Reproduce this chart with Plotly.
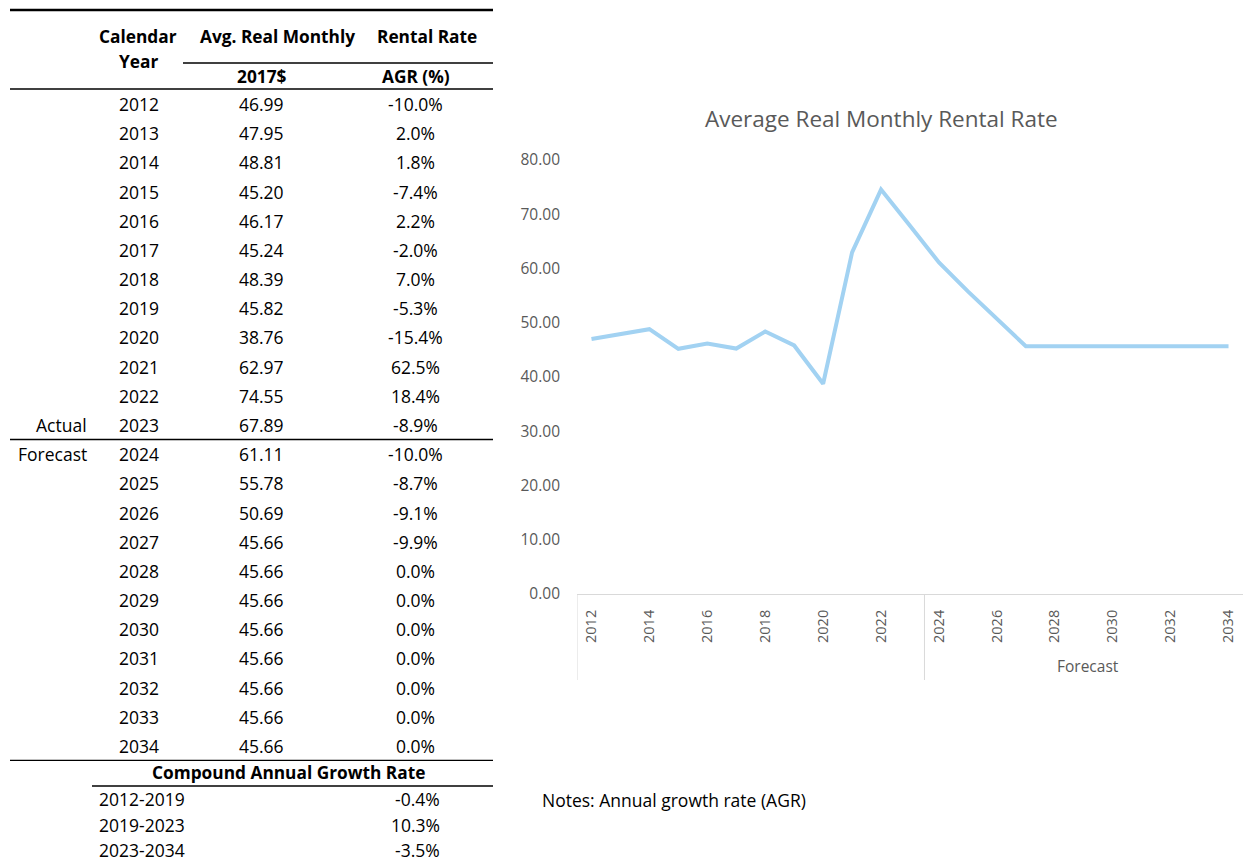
import plotly.graph_objects as go

# ---------------- data ----------------
years = [2012, 2013, 2014, 2015, 2016, 2017, 2018, 2019, 2020, 2021, 2022, 2023,
         2024, 2025, 2026, 2027, 2028, 2029, 2030, 2031, 2032, 2033, 2034]
rates = [46.99, 47.95, 48.81, 45.20, 46.17, 45.24, 48.39, 45.82, 38.76, 62.97, 74.55, 67.89,
         61.11, 55.78, 50.69, 45.66, 45.66, 45.66, 45.66, 45.66, 45.66, 45.66, 45.66]
agr = ["-10.0%", "2.0%", "1.8%", "-7.4%", "2.2%", "-2.0%", "7.0%", "-5.3%", "-15.4%", "62.5%",
       "18.4%", "-8.9%", "-10.0%", "-8.7%", "-9.1%", "-9.9%", "0.0%", "0.0%", "0.0%", "0.0%",
       "0.0%", "0.0%", "0.0%"]
cagr_periods = ["2012-2019", "2019-2023", "2023-2034"]
cagr_values = ["-0.4%", "10.3%", "-3.5%"]
x_tick_years = [2012, 2014, 2016, 2018, 2020, 2022, 2024, 2026, 2028, 2030, 2032, 2034]
y_ticks = [0, 10, 20, 30, 40, 50, 60, 70, 80]
last_actual = 2023

W, H = 1243, 863
FONT = "Open Sans"
TXT = "#000000"
GRAY = "#595959"

fig = go.Figure()

fig.add_trace(go.Scatter(
    x=years, y=rates, mode="lines",
    line=dict(color="#A2D2F2", width=4),
    xaxis="x", yaxis="y", hoverinfo="skip", showlegend=False))

# invisible pixel-space overlay axes for the table
fig.add_trace(go.Scatter(x=[0], y=[0], mode="markers", marker=dict(opacity=0),
                         xaxis="x2", yaxis="y2", showlegend=False, hoverinfo="skip"))

x0_px = 577
y0_px, y1_px = 594, 160  # pixel rows for y=0 and y=80

ann = []
shapes = []
RS = 17.5  # regular table text size
BS = 17.3  # bold header size

def A(x, y, text, anchor="center", bold=False, size=RS, color=TXT, family=FONT):
    ann.append(dict(x=x, y=y, xref="x2", yref="y2", text=(f"<b>{text}</b>" if bold else text),
                    showarrow=False, xanchor=anchor, yanchor="middle",
                    font=dict(family=family, size=size, color=color)))

def L(xa, xb, y, w=1.3, color="#000000"):
    shapes.append(dict(type="line", xref="x2", yref="y2", x0=xa, x1=xb, y0=y, y1=y,
                       line=dict(color=color, width=w)))

# table header
L(10, 493, 10, w=2.5)
A(138, 36, "Calendar", bold=True, size=BS)
A(138, 61, "Year", bold=True, size=BS)
A(277, 36, "Avg. Real Monthly", bold=True, size=BS)
A(427, 36, "Rental Rate", bold=True, size=BS)
L(183, 493, 63)
A(262, 76, "2017$", bold=True, size=BS)
A(416, 76, "AGR (%)", bold=True, size=BS)
L(10, 493, 89)

row0, dy = 104, 29.18
for i, (yr, r, g) in enumerate(zip(years, rates, agr)):
    yy = row0 + i * dy
    A(139, yy, str(yr))
    A(261, yy, f"{r:.2f}")
    A(415, yy, g)
    if yr == last_actual:
        A(89, yy, "Actual", anchor="right")
        L(10, 493, yy + 14.5)
    if yr == last_actual + 1:
        A(89, yy, "Forecast", anchor="right")
L(10, 493, row0 + (len(years) - 1) * dy + 14.5)

A(288, 772, "Compound Annual Growth Rate", bold=True, size=BS)
L(92, 493, 786)
for i, (p, v) in enumerate(zip(cagr_periods, cagr_values)):
    yy = 799 + i * 25.5
    A(97, yy, p, anchor="left")
    A(442, yy, v, anchor="right")

A(540, 800, "Notes: Annual growth rate (AGR)", anchor="left")

# chart title
A(881, 118, "Average Real Monthly Rental Rate", size=22.5, color=GRAY)

# forecast group label and dividers
A(1088, 666, "Forecast", size=15.5, color=GRAY)
for xv in [years[0] - 0.5, last_actual + 0.5]:
    shapes.append(dict(type="line", xref="x", yref="y2", x0=xv, x1=xv, y0=y0_px, y1=680,
                       line=dict(color="#D9D9D9", width=1)))

fig.update_layout(
    template="none",
    width=W, height=H, margin=dict(l=0, r=0, t=0, b=0, pad=0),
    paper_bgcolor="white", plot_bgcolor="rgba(0,0,0,0)",
    showlegend=False,
    xaxis=dict(domain=[x0_px / W, 1], range=[years[0] - 0.5, years[-1] + 0.5],
               tickmode="array", tickvals=x_tick_years, ticktext=[str(v) for v in x_tick_years],
               tickangle=-90, showgrid=False, zeroline=False, showline=True, automargin=False,
               linecolor="#D9D9D9", linewidth=1, ticks="", ticklabelstandoff=9,
               tickfont=dict(family=FONT, size=14.5, color=GRAY), anchor="y"),
    yaxis=dict(domain=[1 - y0_px / H, 1 - y1_px / H], range=[0, 80], automargin=False,
               tickmode="array", tickvals=y_ticks, ticktext=[f"{v:.2f}" for v in y_ticks],
               showgrid=False, zeroline=False, showline=False, ticks="",
               tickfont=dict(family=FONT, size=15.5, color=GRAY), anchor="x",
               ticklabelstandoff=16),
    xaxis2=dict(domain=[0, 1], range=[0, W], visible=False, anchor="y2", automargin=False),
    yaxis2=dict(domain=[0, 1], range=[H, 0], visible=False, anchor="x2", automargin=False),
    annotations=ann, shapes=shapes,
)

fig.write_html("out.html", post_script="document.body.style.margin='0';")
